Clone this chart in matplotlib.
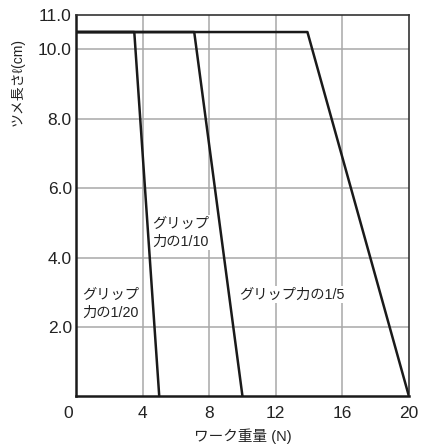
import matplotlib
matplotlib.use("Agg")
import matplotlib.pyplot as plt
import matplotlib.transforms as mtransforms

plt.rcParams['font.family'] = ['Liberation Sans', 'Noto Sans CJK JP', 'DejaVu Sans']

# Data: each curve (x = work weight N, y = claw length cm)
x_1_20 = [0, 3.5, 5.0]
y_1_20 = [10.5, 10.5, 0]
x_1_10 = [0, 7.1, 10.0]
y_1_10 = [10.5, 10.5, 0]
x_1_5 = [0, 13.9, 20.0]
y_1_5 = [10.5, 10.5, 0]

xticks = [0, 4, 8, 12, 16, 20]
yticks = [2, 4, 6, 8, 10, 11]
ytick_labels = ["2.0", "4.0", "6.0", "8.0", "10.0", "11.0"]

fig = plt.figure(figsize=(4.28, 4.45), dpi=100)
ax = fig.add_axes([0.1776, 0.109, 0.778, 0.858])

for xs, ys in [(x_1_20, y_1_20), (x_1_10, y_1_10), (x_1_5, y_1_5)]:
    ax.plot(xs, ys, color='#1a1a1a', lw=1.8, solid_capstyle='butt', zorder=3)

ax.set_xlim(0, 20)
ax.set_ylim(0, 11)
ax.set_xticks(xticks)
ax.set_yticks(yticks)
ax.set_yticklabels(ytick_labels)
ax.tick_params(length=0, labelsize=12.5, colors='#222222')
ax.tick_params(axis='x', pad=7)
ax.tick_params(axis='y', pad=3)

# nudge the origin label to the left of the axis
lbl0 = ax.get_xticklabels()[0]
lbl0.set_transform(lbl0.get_transform() +
                   mtransforms.ScaledTranslation(-8 / 100, 0, fig.dpi_scale_trans))

# grid lines (skip the one on the top spine)
for gx in [4, 8, 12, 16]:
    ax.axvline(gx, color='#a8a8a8', lw=1.1, zorder=1)
for gy in [2, 4, 6, 8, 10]:
    ax.axhline(gy, color='#a8a8a8', lw=1.1, zorder=1)

for side in ['left', 'bottom']:
    ax.spines[side].set_linewidth(1.8)
    ax.spines[side].set_color('#1a1a1a')
for side in ['top', 'right']:
    ax.spines[side].set_linewidth(1.2)
    ax.spines[side].set_color('#333333')

box = dict(facecolor='white', edgecolor='none', pad=1)
ax.text(0.35, 2.3, "グリップ\n力の1/20", fontsize=10.3, color='#222222',
        linespacing=1.35, bbox=box, zorder=4)
ax.text(4.6, 4.35, "グリップ\n力の1/10", fontsize=10.3, color='#222222',
        linespacing=1.35, bbox=box, zorder=4)
ax.text(9.8, 2.82, "グリップ力の1/5", fontsize=10.3, color='#222222',
        bbox=box, zorder=4)

ax.set_xlabel("ワーク重量 (N)", fontsize=10.5, color='#222222', labelpad=5)
fig.text(0.042, 0.815, "ツメ長さℓ(cm)", rotation=90, fontsize=10,
         color='#222222', ha='center', va='center')

fig.savefig("out.png", dpi=100)
